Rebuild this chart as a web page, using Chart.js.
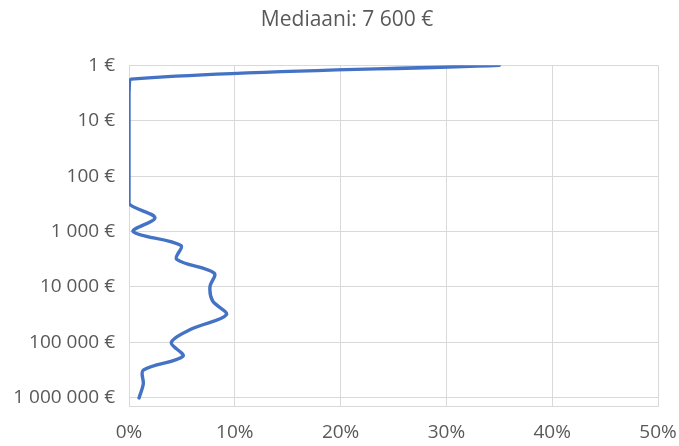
<!DOCTYPE html>
<html lang="fi">
<head>
<meta charset="utf-8">
<title>Mediaani: 7 600 €</title>
<script src="https://cdn.jsdelivr.net/npm/chart.js@4/dist/chart.umd.min.js"></script>
<style>
  html, body { margin: 0; padding: 0; background: #ffffff; }
  #wrap { width: 679px; height: 446px; }
</style>
</head>
<body>
<div id="wrap"><canvas id="chart" width="679" height="446"></canvas></div>
<script>
// Amount levels (€), quarter-decade steps from 1 € to 1 000 000 €
const amountLevels = [
  1, 1.78, 3.16, 5.62, 10, 17.8, 31.6, 56.2, 100, 178, 316, 562,
  1000, 1778, 3162, 5623, 10000, 17783, 31623, 56234,
  100000, 177828, 316228, 562341, 1000000
];
// Share of all cases at each amount level (%)
const shares = [
  35.0, 0.2, 0, 0, 0, 0, 0, 0, 0, 0, 0, 2.45,
  0.4, 4.9, 4.5, 8.05, 7.65, 7.9, 9.2, 6.0,
  4.0, 5.1, 1.35, 1.35, 0.95
];
// Axis ticks
const yTickValues = [1, 10, 100, 1000, 10000, 100000, 1000000];
const yTickLabels = ['1 €', '10 €', '100 €', '1 000 €', '10 000 €', '100 000 €', '1 000 000 €'];
const xTickValues = [0, 10, 20, 30, 40, 50];
const xTickLabels = ['0%', '10%', '20%', '30%', '40%', '50%'];
const titleText = 'Mediaani: 7 600 €';

const points = amountLevels.map((a, i) => ({ x: shares[i], y: a }));

const gridColor = '#d9d9d9';
const textColor = '#595959';
const fontFamily = '"Open Sans", "Noto Sans", sans-serif';

// Nudge the title a little to the right of the canvas centre
const titleShift = {
  id: 'titleShift',
  afterLayout(chart) {
    const t = chart.titleBlock;
    if (t) { t.left += 13; t.right += 13; }
  }
};

new Chart(document.getElementById('chart'), {
  type: 'scatter',
  data: {
    datasets: [{
      data: points,
      showLine: true,
      borderColor: '#4472C4',
      backgroundColor: '#4472C4',
      borderWidth: 3.4,
      pointRadius: 0,
      pointHoverRadius: 0,
      tension: 0.33,
      borderCapStyle: 'round',
      borderJoinStyle: 'round'
    }]
  },
  plugins: [titleShift],
  options: {
    responsive: false,
    animation: false,
    devicePixelRatio: 1,
    layout: { padding: { left: 10, right: 21, top: 0, bottom: 0 } },
    plugins: {
      legend: { display: false },
      tooltip: { enabled: false },
      title: {
        display: true,
        text: titleText,
        color: textColor,
        font: { family: fontFamily, size: 21, weight: 'normal' },
        padding: { top: 7, bottom: 33 }
      }
    },
    scales: {
      x: {
        type: 'linear',
        min: 0,
        max: 50,
        afterBuildTicks: (scale) => { scale.ticks = xTickValues.map(v => ({ value: v })); },
        afterFit: (scale) => {
          scale.height = 40;
          scale.paddingLeft = 0;
          scale.paddingRight = 0;
        },
        ticks: {
          color: textColor,
          font: { family: fontFamily, size: 19 },
          padding: 15,
          maxRotation: 0,
          callback: (v) => xTickLabels[xTickValues.indexOf(v)]
        },
        grid: { color: gridColor, lineWidth: 1, drawTicks: false },
        border: { color: gridColor }
      },
      y: {
        type: 'logarithmic',
        reverse: true,
        min: 1,
        max: 1400000,
        afterBuildTicks: (scale) => { scale.ticks = yTickValues.map(v => ({ value: v })); },
        afterFit: (scale) => {
          scale.width = 119;
          scale.paddingTop = 0;
          scale.paddingBottom = 0;
        },
        ticks: {
          color: textColor,
          font: { family: fontFamily, size: 19 },
          padding: 14,
          autoSkip: false,
          callback: (v) => yTickLabels[yTickValues.indexOf(v)]
        },
        grid: { color: gridColor, lineWidth: 1, drawTicks: false },
        border: { color: gridColor }
      }
    }
  }
});
</script>
</body>
</html>
